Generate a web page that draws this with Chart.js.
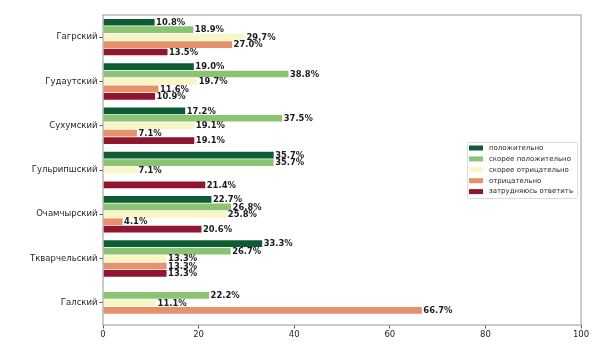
<!DOCTYPE html>
<html>
<head>
<meta charset="utf-8">
<script src="https://cdn.jsdelivr.net/npm/chart.js@4"></script>
<style>
  html, body { margin: 0; padding: 0; background: #ffffff; }
  #wrap { width: 600px; height: 345px; position: relative; }
</style>
</head>
<body>
<div id="wrap"><canvas id="c" width="600" height="345"></canvas></div>
<script>
// Districts (y categories)
const districts = ['Гагрский', 'Гудаутский', 'Сухумский', 'Гульрипшский', 'Очамчырский', 'Ткварчельский', 'Галский'];

// Answer options (series) and their colours
const answerLabels = ['положительно', 'скорее положительно', 'скорее отрицательно', 'отрицательно', 'затрудняюсь ответить'];
const answerColors = ['#0d5c34', '#8cc373', '#f8f6c6', '#e69169', '#92152f'];

// Share of answers per district, %
const positive       = [10.8, 19.0, 17.2, 35.7, 22.7, 33.3, 0];
const ratherPositive = [18.9, 38.8, 37.5, 35.7, 26.8, 26.7, 22.2];
const ratherNegative = [29.7, 19.7, 19.1, 7.1, 25.8, 13.3, 11.1];
const negative       = [27.0, 11.6, 7.1, 0, 4.1, 13.3, 66.7];
const hardToSay      = [13.5, 10.9, 19.1, 21.4, 20.6, 13.3, 0];

// X axis ticks
const xTicks = [0, 20, 40, 60, 80, 100];

const seriesValues = [positive, ratherPositive, ratherNegative, negative, hardToSay];

const TXT = '#262626';
const FRAME = '#a8a8a8';

// Percent labels at the end of each bar
const valueLabels = {
  id: 'valueLabels',
  afterDatasetsDraw(chart) {
    const ctx = chart.ctx;
    ctx.save();
    ctx.font = 'bold 8.4px "DejaVu Sans"';
    ctx.fillStyle = '#1a1a1a';
    ctx.textAlign = 'left';
    ctx.textBaseline = 'middle';
    chart.data.datasets.forEach((ds, di) => {
      const meta = chart.getDatasetMeta(di);
      meta.data.forEach((bar, i) => {
        const v = ds.data[i];
        if (!v) return;
        ctx.fillText(v.toFixed(1) + '%', bar.x + 1.5, bar.y + 0.5);
      });
    });
    ctx.restore();
  }
};

// Box around the plot area
const frame = {
  id: 'frame',
  afterDatasetsDraw(chart) {
    const a = chart.chartArea;
    const ctx = chart.ctx;
    ctx.save();
    ctx.strokeStyle = FRAME;
    ctx.lineWidth = 1.2;
    ctx.strokeRect(a.left, a.top, a.right - a.left, a.bottom - a.top);
    ctx.restore();
  }
};

// Legend box on the right, inside the plot area
const sideLegend = {
  id: 'sideLegend',
  afterDraw(chart) {
    const ctx = chart.ctx;
    const x0 = 467, y0 = 142, w = 110, h = 56;
    ctx.save();
    ctx.fillStyle = 'rgba(255,255,255,0.85)';
    ctx.strokeStyle = '#dcdcdc';
    ctx.lineWidth = 1;
    ctx.beginPath();
    ctx.roundRect(x0 + 0.5, y0 + 0.5, w, h, 2);
    ctx.fill();
    ctx.stroke();
    ctx.font = '7px "DejaVu Sans"';
    ctx.textBaseline = 'middle';
    ctx.textAlign = 'left';
    chart.data.datasets.forEach((ds, i) => {
      const cy = y0 + 6 + i * 10.9;
      ctx.fillStyle = ds.backgroundColor;
      ctx.fillRect(x0 + 2, cy - 2.5, 14, 5);
      ctx.fillStyle = TXT;
      ctx.fillText(ds.label, x0 + 22, cy);
    });
    ctx.restore();
  }
};

new Chart(document.getElementById('c'), {
  type: 'bar',
  data: {
    labels: districts,
    datasets: answerLabels.map((name, i) => ({
      label: name,
      data: seriesValues[i],
      backgroundColor: answerColors[i],
      borderWidth: 0,
      barPercentage: 0.9,
      categoryPercentage: 0.84
    }))
  },
  options: {
    indexAxis: 'y',
    responsive: false,
    animation: false,
    layout: { padding: { top: 15, right: 19, left: 0, bottom: 0 } },
    plugins: {
      legend: { display: false },
      tooltip: { enabled: false }
    },
    scales: {
      x: {
        min: 0,
        max: 100,
        afterBuildTicks(scale) { scale.ticks = xTicks.map(v => ({ value: v })); },
        afterFit(scale) { scale.height = 20; },
        border: { display: false },
        grid: { drawOnChartArea: false, drawTicks: true, tickLength: 3.5, color: '#555', tickColor: '#555' },
        ticks: { color: TXT, font: { family: 'DejaVu Sans', size: 8.5 }, padding: 1, maxRotation: 0 }
      },
      y: {
        offset: true,
        afterFit(scale) { scale.width = 103; },
        border: { display: false },
        grid: { drawOnChartArea: false, drawTicks: true, tickLength: 3.5, offset: false, color: '#555', tickColor: '#555' },
        ticks: { color: TXT, font: { family: 'DejaVu Sans', size: 8.5 }, padding: 2 }
      }
    }
  },
  plugins: [valueLabels, frame, sideLegend]
});
</script>
</body>
</html>
